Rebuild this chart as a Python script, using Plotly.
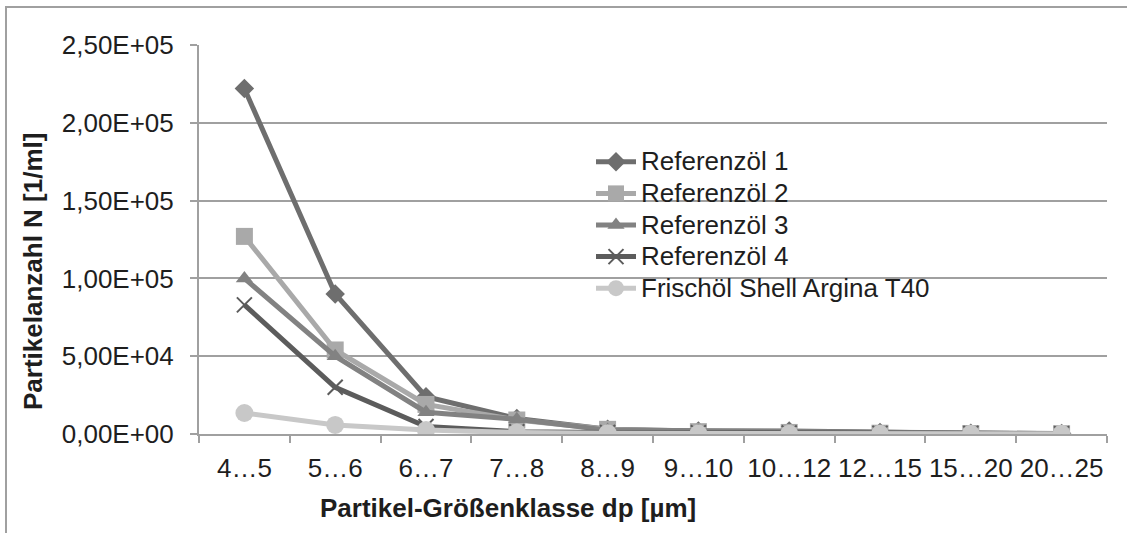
import plotly.graph_objects as go

categories = ["4…5", "5…6", "6…7", "7…8", "8…9", "9…10", "10…12", "12…15", "15…20", "20…25"]
ref1 = [222000, 90000, 24000, 10000, 3000, 2000, 2000, 1000, 500, 300]
ref2 = [127000, 54000, 19000, 9000, 3000, 1500, 1000, 500, 300, 200]
ref3 = [100000, 50000, 14000, 9500, 2500, 2000, 1500, 800, 400, 200]
ref4 = [83000, 30000, 4800, 1500, 1000, 800, 600, 400, 300, 200]
frisch = [13500, 5800, 2500, 1000, 500, 300, 200, 100, 100, 100]

series_names = ["Referenzöl 1", "Referenzöl 2", "Referenzöl 3", "Referenzöl 4", "Frischöl Shell Argina T40"]
y_tickvals = [0, 50000, 100000, 150000, 200000, 250000]
y_ticktext = ["0,00E+00", "5,00E+04", "1,00E+05", "1,50E+05", "2,00E+05", "2,50E+05"]
x_title = "Partikel-Größenklasse dp [µm]"
y_title = "Partikelanzahl N [1/ml]"

styles = [
    dict(color="#6e6e6e", symbol="diamond", size=15),
    dict(color="#a9a9a9", symbol="square", size=17),
    dict(color="#828282", symbol="triangle-up", size=15),
    dict(color="#5c5c5c", symbol="x-thin", size=15),
    dict(color="#c8c8c8", symbol="circle", size=18),
]

fig = go.Figure()
for name, vals, st in zip(series_names, [ref1, ref2, ref3, ref4, frisch], styles):
    marker = dict(symbol=st["symbol"], size=st["size"], color=st["color"])
    if st["symbol"] == "x-thin":
        marker["line"] = dict(color=st["color"], width=2)
    fig.add_trace(go.Scatter(
        x=categories, y=vals,
        name="<span style='font-size:26px'>" + name + "</span>",
        mode="lines+markers",
        line=dict(color=st["color"], width=5),
        marker=marker,
    ))

L, R, T, B = 199, 20, 45, 99
W, H = 1127, 533
pw = W - L - R
ph = H - T - B

def px_x(x):
    return (x - L) / pw

def px_y(y):
    return (H - B - y) / ph

txt = "#1e1e1e"
grid = "#a0a0a0"

fig.update_layout(
    width=W, height=H,
    margin=dict(l=L, r=R, t=T, b=B, autoexpand=False),
    paper_bgcolor="white", plot_bgcolor="white",
    font=dict(family="Liberation Sans, Arial, sans-serif", size=26, color=txt),
    showlegend=True,
    legend=dict(
        x=px_x(591), y=px_y(141), xanchor="left", yanchor="top",
        font=dict(size=22, color=txt), bgcolor="rgba(0,0,0,0)",
        tracegroupgap=0, itemwidth=40,
    ),
    xaxis=dict(
        type="category", showgrid=False, showline=True, linecolor=grid, linewidth=2,
        ticks="outside", tickson="boundaries", ticklen=7, tickcolor=grid, tickwidth=2,
        tickfont=dict(size=26, color=txt), range=[-0.5, 9.5], ticklabelstandoff=10,
        tickangle=0, automargin=False,
    ),
    yaxis=dict(
        range=[0, 250000], tickvals=y_tickvals, ticktext=y_ticktext,
        showgrid=True, gridcolor=grid, gridwidth=2,
        showline=True, linecolor=grid, linewidth=2,
        ticks="outside", ticklen=7, tickcolor=grid, tickwidth=2,
        tickfont=dict(size=26, color=txt), zeroline=False, ticklabelstandoff=11,
        automargin=False,
    ),
    annotations=[
        dict(text="<b>" + x_title + "</b>", xref="paper", yref="paper",
             x=px_x(508), y=px_y(508), xanchor="center", yanchor="middle",
             showarrow=False, font=dict(size=26, color=txt)),
        dict(text="<b>" + y_title + "</b>", xref="paper", yref="paper",
             x=px_x(33), y=px_y(272), xanchor="center", yanchor="middle",
             textangle=-90, showarrow=False, font=dict(size=26, color=txt)),
    ],
    shapes=[
        dict(type="rect", xref="paper", yref="paper",
             x0=px_x(6), x1=px_x(1140), y0=px_y(560), y1=px_y(7),
             line=dict(color=grid, width=2), fillcolor="rgba(0,0,0,0)", layer="below"),
        dict(type="rect", xref="paper", yref="paper",
             x0=px_x(525), x1=px_x(992), y0=px_y(305), y1=px_y(132),
             line=dict(width=0), fillcolor="white", layer="between"),
    ],
)

fig.write_html("out.html")
